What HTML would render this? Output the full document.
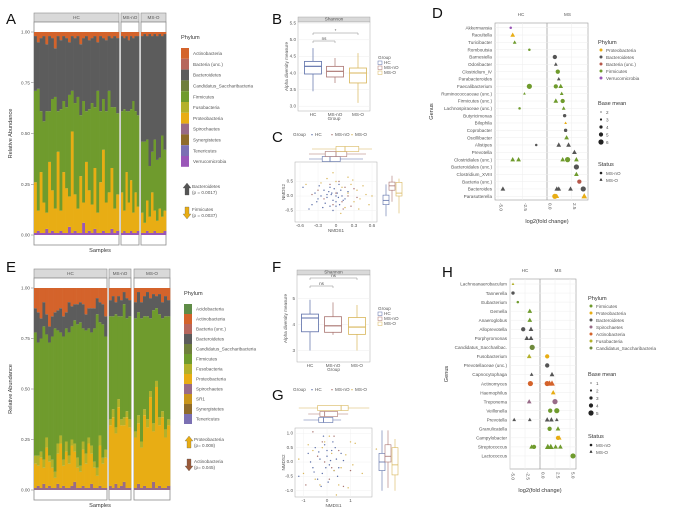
<!DOCTYPE html>
<html><head><meta charset="utf-8"><style>
body{margin:0;background:#fff;}
svg{display:block;font-family:"Liberation Sans",sans-serif;}
.t{font-size:4.6px;fill:#555;}
.l{font-size:5.6px;fill:#333;}
.big{font-size:15px;fill:#111;}
</style></head><body>
<svg id="fig" width="676" height="513" viewBox="0 0 676 513"></svg>
<script>
// ---------- DATA ----------
const A_groups=["HC","MS-nO","MS-O"];
const A_counts=[30,8,10];
const A_verr=[0.01,0.02,0.01,0.01,0.03,0.01,0.02,0.01,0.01,0.02,0.01,0.01,0.04,0.01,0.02,0.01,0.01,0.06,0.01,0.02,0.01,0.03,0.01,0.01,0.02,0.01,0.01,0.03,0.01,0.02, 0.01,0.02,0.01,0.01,0.02,0.01,0.01,0.02, 0.01,0.01,0.02,0.01,0.01,0.02,0.01,0.01,0.01,0.02];
const A_prot=[0.25,0.1,0.3,0.15,0.08,0.35,0.2,0.12,0.4,0.1,0.3,0.22,0.15,0.5,0.18,0.12,0.28,0.1,0.35,0.2,0.14,0.3,0.1,0.25,0.4,0.15,0.2,0.3,0.12,0.18, 0.2,0.1,0.3,0.15,0.25,0.1,0.2,0.12, 0.1,0.05,0.15,0.08,0.2,0.1,0.06,0.12,0.08,0.1];
const A_firm=[0.45,0.6,0.3,0.4,0.5,0.25,0.45,0.55,0.2,0.5,0.35,0.4,0.5,0.2,0.45,0.55,0.3,0.5,0.25,0.4,0.5,0.3,0.6,0.35,0.25,0.45,0.5,0.3,0.5,0.4, 0.4,0.5,0.3,0.45,0.35,0.55,0.4,0.45, 0.35,0.4,0.3,0.25,0.2,0.35,0.3,0.25,0.4,0.3];
const A_actino=[0.02,0.05,0.03,0.02,0.06,0.02,0.03,0.08,0.02,0.04,0.02,0.03,0.05,0.02,0.03,0.02,0.06,0.03,0.02,0.04,0.03,0.02,0.05,0.02,0.03,0.04,0.02,0.03,0.02,0.03, 0.02,0.03,0.02,0.04,0.02,0.03,0.02,0.02, 0.02,0.01,0.02,0.01,0.02,0.01,0.02,0.01,0.02,0.01];
const E_counts=[26,8,12];
const E_spiro=[0.01,0.02,0.01,0.03,0.01,0.02,0.01,0.01,0.03,0.01,0.02,0.01,0.01,0.02,0.04,0.01,0.01,0.02,0.01,0.01,0.03,0.01,0.01,0.02,0.01,0.01, 0.02,0.01,0.03,0.01,0.02,0.04,0.01,0.01, 0.01,0.03,0.01,0.02,0.01,0.01,0.04,0.01,0.02,0.01,0.01,0.02];
const E_prot=[0.12,0.1,0.15,0.08,0.2,0.12,0.1,0.05,0.15,0.22,0.1,0.18,0.12,0.2,0.15,0.1,0.08,0.18,0.12,0.22,0.15,0.1,0.06,0.2,0.12,0.15, 0.3,0.35,0.25,0.4,0.3,0.28,0.35,0.3, 0.25,0.3,0.2,0.35,0.3,0.45,0.25,0.5,0.3,0.35,0.25,0.3];
const E_fuso=[0.04,0.05,0.03,0.04,0.05,0.03,0.04,0.03,0.05,0.04,0.03,0.05,0.04,0.03,0.04,0.05,0.03,0.04,0.05,0.03,0.04,0.03,0.04,0.05,0.03,0.04, 0.03,0.04,0.03,0.04,0.03,0.04,0.03,0.04, 0.03,0.04,0.03,0.03,0.04,0.03,0.04,0.03,0.04,0.03,0.04,0.03];
const E_firm=[0.61,0.56,0.56,0.66,0.51,0.56,0.61,0.71,0.56,0.51,0.61,0.56,0.61,0.56,0.61,0.66,0.71,0.56,0.61,0.54,0.56,0.66,0.76,0.56,0.66,0.56, 0.51,0.46,0.56,0.41,0.51,0.56,0.46,0.51, 0.56,0.51,0.61,0.46,0.51,0.36,0.56,0.36,0.51,0.46,0.56,0.51];
const E_bact=[0.12,0.15,0.1,0.12,0.1,0.08,0.1,0.08,0.1,0.12,0.1,0.08,0.15,0.1,0.08,0.1,0.1,0.12,0.08,0.1,0.12,0.1,0.08,0.1,0.1,0.1, 0.08,0.1,0.06,0.1,0.08,0.06,0.1,0.08, 0.08,0.1,0.08,0.1,0.12,0.1,0.08,0.06,0.1,0.08,0.1,0.08];
const B_stats=[[3.45,3.97,4.2,4.35,4.75],[3.7,3.88,4.05,4.2,4.45],[3.1,3.7,4.0,4.15,4.6]];
const F_stats=[[3.0,3.72,4.25,4.4,4.95],[3.6,3.7,3.95,4.3,4.85],[3.0,3.62,3.9,4.27,4.75]];
const B_ticks=[3.0,3.5,4.0,4.5,5.0,5.5];
const F_ticks=[3,4,5];
const C_hc_x=[-0.55,-0.4,-0.35,-0.3,-0.25,-0.2,-0.18,-0.15,-0.12,-0.1,-0.08,-0.05,-0.03,0,0.02,0.04,0.06,0.08,0.1,0.12,-0.22,-0.28,-0.1,0.0,0.15,-0.45,-0.05,0.05,-0.15,0.2,-0.32,0.0,-0.07];
const C_hc_y=[0.3,-0.3,0.1,-0.1,0.0,0.2,-0.25,-0.05,0.15,-0.35,0.05,-0.15,0.25,-0.2,0.1,-0.05,-0.3,0.2,0.0,-0.15,-0.4,0.35,0.3,0.0,-0.1,-0.45,-0.5,0.4,0.05,0.15,-0.2,-0.35,0.1];
const C_no_x=[-0.3,-0.2,-0.1,0.0,0.1,0.15,0.2,0.25,-0.05,0.3,0.05,0.35,-0.4,0.12];
const C_no_y=[0.2,-0.1,0.4,0.1,-0.2,0.3,0.0,-0.35,-0.3,0.25,0.5,-0.05,0.05,-0.45];
const C_o_x=[-0.25,-0.15,0,0.1,0.2,0.25,0.3,0.35,0.4,0.45,0.5,0.55,0.15,-0.05,0.28,0.38,0.6,0.2,-0.5,0.08];
const C_o_y=[0.45,0.6,0.5,0.3,0.1,0.4,-0.2,0.2,-0.1,0.35,0.05,-0.3,-0.4,0.8,0.55,-0.45,0.0,0.65,0.4,-0.6];
const C_top=[[-0.45,-0.23,-0.1,0.07,0.45],[-0.45,-0.18,0.0,0.18,0.5],[-0.4,0.0,0.15,0.38,0.6]];
const C_right=[[-0.7,-0.3,-0.15,0.03,0.4],[-0.2,0.2,0.35,0.48,0.7],[-0.6,0.0,0.1,0.47,0.6]];
const G_hc_x=[-1.2,-0.8,-0.6,-0.5,-0.3,-0.2,-0.1,0,0.1,0.2,0.3,0.4,-0.4,-0.7,0.5,0.6,-0.15,0.05,0.25,-0.35,-0.05,0.15,0.35,-0.55,0.45,-0.25,0.0,0.7];
const G_hc_y=[-0.5,0.3,-0.2,0.5,0.1,-0.4,0.6,0.2,-0.1,0.4,-0.3,0.1,-0.6,0.0,-0.2,0.3,0.9,-0.7,0.7,0.35,-0.2,0.05,0.5,-0.35,-0.5,-0.85,0.4,0.05];
const G_no_x=[-0.6,-0.2,0.2,0.5,-0.9,0.1,0.7,-0.4,0.3,1.0,-0.1];
const G_no_y=[1.05,0.7,-0.2,0.4,-0.8,-0.6,-0.85,0.2,0.9,-0.3,0.0];
const G_o_x=[-1.2,-1.0,-0.8,-0.5,-0.2,0.1,0.3,0.5,0.8,1.0,1.2,1.5,2.1,0.6,-0.3,0.2,0.9,-0.6,0.4,1.1,-0.1];
const G_o_y=[0.1,-0.4,0.6,-0.6,0.5,0.9,-0.3,-0.8,0.25,0.7,0.65,-0.4,0.45,-0.2,-0.8,0.3,-0.9,0.4,-1.15,-0.1,0.7];
const G_top=[[-1.0,-0.35,-0.15,0.25,0.6],[-0.8,-0.3,-0.1,0.45,0.9],[-1.2,-0.4,0.6,0.9,1.8]];
const G_right=[[-1.0,-0.3,0.0,0.3,1.1],[-0.9,0.0,0.2,0.6,1.1],[-1.0,-0.45,-0.1,0.5,0.8]];
const D_genus=["Akkermansia","Raoultella","Turicibacter","Romboutsia","Barnesiella","Odoribacter","Clostridium_IV","Parabacteroides","Faecalibacterium","Ruminococcaceae (unc.)","Firmicutes (unc.)","Lachnospiraceae (unc.)","Butyricimonas","Bilophila","Coprobacter","Oscillibacter","Alistipes","Prevotella","Clostridiales (unc.)","Bacteroidales (unc.)","Clostridium_XVIII","Bacteria (unc.)","Bacteroides","Parasutterella"];
const D_ticks=[-5,-2.5,0,2.5];
const D_row=[0,1,2,3,4,5,6,7,8,8,8,9,9,10,10,11,11,12,13,14,15,16,16,16,17,18,18,18,18,18,19,20,21,22,22,22,22,22,23,23,23];
const D_fc=[-3.7,-3.5,-3.3,-1.8,0.8,0.9,1.1,1.2,-1.8,0.9,1.4,-2.3,1.5,0.9,1.6,-2.8,1.7,1.8,1.9,1.9,2.0,-1.1,1.2,2.2,2.8,-3.5,-2.9,1.6,2.1,3.0,3.0,3.0,3.3,-4.5,1.0,1.2,2.4,3.7,0.8,1.0,3.8];
const D_phy=["Verrucomicrobia","Proteobacteria","Firmicutes","Firmicutes","Bacteroidetes","Bacteroidetes","Firmicutes","Bacteroidetes","Firmicutes","Firmicutes","Firmicutes","Firmicutes","Firmicutes","Firmicutes","Firmicutes","Firmicutes","Firmicutes","Bacteroidetes","Proteobacteria","Bacteroidetes","Firmicutes","Bacteroidetes","Bacteroidetes","Bacteroidetes","Bacteroidetes","Firmicutes","Firmicutes","Firmicutes","Firmicutes","Firmicutes","Bacteroidetes","Firmicutes","Bacteria (unc.)","Bacteroidetes","Bacteroidetes","Bacteroidetes","Bacteroidetes","Bacteroidetes","Proteobacteria","Proteobacteria","Proteobacteria"];
const D_status=["nO","O","O","nO","nO","O","nO","O","nO","nO","O","O","O","O","nO","nO","O","nO","O","nO","O","nO","O","O","O","O","O","O","nO","O","nO","O","nO","O","O","O","O","nO","nO","O","O"];
const D_size=[1,3,2,1,3,2,3,2,4,3,3,1,2,3,3,1,2,2,1,2,3,1,3,3,3,3,3,3,4,3,4,3,3,3,3,3,3,4,4,3,4];
const H_genus=["Lachnoanaerobaculum","Tannerella","Eubacterium","Gemella","Anaeroglobus","Alloprevotella","Porphyromonas","Candidatus_Saccharibac.","Fusobacterium","Prevotellaceae (unc.)","Capnocytophaga","Actinomyces","Haemophilus","Treponema","Veillonella","Prevotella","Granulicatella","Campylobacter","Streptococcus","Lactococcus"];
const H_ticks=[-5,-2.5,0,2.5,5];
const H_row=[0,1,2,3,4,5,5,6,6,7,8,8,9,10,10,11,11,11,11,12,13,13,14,14,15,15,15,15,15,16,16,17,17,18,18,18,18,18,18,19];
const H_fc=[-4.5,-4.5,-3.7,-1.7,-1.7,-2.8,-1.5,-2.2,-1.5,-1.3,-1.8,1.2,1.2,-1.4,2.0,-1.6,1.2,1.6,2.0,2.2,-1.8,2.5,1.7,2.8,-4.3,-1.7,1.2,1.9,2.8,1.6,3.0,3.0,3.2,-1.4,-1.0,1.3,1.8,2.6,3.4,5.5];
const H_phy=["Fusobacteria","Bacteroidetes","Firmicutes","Firmicutes","Firmicutes","Bacteroidetes","Bacteroidetes","Bacteroidetes","Bacteroidetes","Candidatus_Saccharibacteria","Fusobacteria","Proteobacteria","Bacteroidetes","Bacteroidetes","Bacteroidetes","Actinobacteria","Actinobacteria","Actinobacteria","Actinobacteria","Proteobacteria","Spirochaetes","Spirochaetes","Firmicutes","Firmicutes","Bacteroidetes","Bacteroidetes","Bacteroidetes","Bacteroidetes","Bacteroidetes","Firmicutes","Firmicutes","Proteobacteria","Proteobacteria","Firmicutes","Firmicutes","Firmicutes","Firmicutes","Firmicutes","Firmicutes","Firmicutes"];
const H_status=["O","nO","nO","O","O","nO","O","O","O","nO","O","nO","nO","O","O","nO","nO","O","O","O","O","nO","nO","nO","O","O","O","O","O","nO","O","nO","O","O","nO","O","O","O","O","nO"];
const H_size=[1,2,1,3,3,3,3,3,3,4,3,3,3,2,3,4,4,4,4,3,3,4,3,4,2,2,3,3,2,3,3,3,3,3,3,4,4,3,3,4];

// ---------- HELPERS ----------
const NS="http://www.w3.org/2000/svg";
const svg=document.getElementById('fig');
function mk(tag,attrs,name,parent){
  const el=document.createElementNS(NS,tag);
  for(const k in attrs) el.setAttribute(k,attrs[k]);
  
  
  (parent||svg).appendChild(el);
  return el;
}
function txt(x,y,s,cls,name,extra){
  const a=Object.assign({x:x,y:y,class:cls},extra||{});
  const el=mk('text',a,name);
  el.textContent=s;
  return el;
}
const PC={"Actinobacteria":"#d4632b","Bacteria (unc.)":"#b6675d","Bacteroidetes":"#5c5c5c","Candidatus_Saccharibacteria":"#6f7f3c","Firmicutes":"#6f9b2d","Fusobacteria":"#b3b12b","Proteobacteria":"#e8ad14","Spirochaetes":"#986b88","Synergistetes":"#8f6b2b","Tenericutes":"#7b70b3","Verrucomicrobia":"#9a57b8","Acidobacteria":"#5f8c47","SR1":"#c9951b"};
const GC=["#5b6ea8","#a9736f","#d8b65a"];
const GN=["HC","MS-nO","MS-O"];

[["A",6,24],["B",272,24],["C",272,142],["D",432,18],["E",6,272],["F",272,272],["G",272,400],["H",442,277]].forEach(p=>{
  txt(p[1],p[2],p[0],'big','panel-label-'+p[0].toLowerCase());
});

function stackPanel(id,segs,yTop,yBot,counts,layers,ticksY){
  segs.forEach((s,i)=>{
    mk('rect',{x:s[0],y:yTop-19,width:s[1]-s[0],height:9,fill:'#d9d9d9',stroke:'#8c8c8c','stroke-width':0.6},id+'-strip-'+GN[i].toLowerCase());
    txt((s[0]+s[1])/2,yTop-12.8,GN[i],'t',id+'-strip-label',{'text-anchor':'middle','font-size':'4.4px'});
    mk('rect',{x:s[0],y:yTop-10,width:s[1]-s[0],height:10+(yBot-yTop)+10,fill:'#fff',stroke:'#8c8c8c','stroke-width':0.8},id+'-panel-'+GN[i].toLowerCase());
  });
  let idx=0;
  segs.forEach((s,g)=>{
    const n=counts[g], w=(s[1]-s[0])/n;
    for(let j=0;j<n;j++,idx++){
      let cum=0;
      layers.forEach(L=>{
        const v=L.vals?L.vals[idx]:Math.max(0,1-cum);
        const y1=yBot-(yBot-yTop)*(cum+v), y0=yBot-(yBot-yTop)*cum;
        mk('rect',{x:(s[0]+j*w).toFixed(2),y:y1.toFixed(2),width:(w+0.3).toFixed(2),height:Math.max(0,y0-y1).toFixed(2),fill:L.c},id+'-bar-segment');
        cum+=v;
      });
    }
  });
  ticksY.forEach(t=>{
    const y=yBot-(yBot-yTop)*t;
    txt(30,y+1.5,t.toFixed(2),'t',id+'-y-tick-label',{'text-anchor':'end'});
    mk('line',{x1:31,x2:33.5,y1:y,y2:y,stroke:'#777','stroke-width':0.5},id+'-y-tick');
  });
  txt(12,(yTop+yBot)/2,'Relative Abundance','l',id+'-y-axis-title',{'text-anchor':'middle',transform:`rotate(-90 12 ${(yTop+yBot)/2})`,'font-size':'5.2px'});
  txt(100,yBot+17,'Samples','l',id+'-x-axis-title',{'text-anchor':'middle','font-size':'5.8px'});
}
stackPanel('a',[[34,119],[121,139],[141,166]],32,235,A_counts,[
 {vals:A_verr,c:PC.Verrucomicrobia},{vals:A_prot,c:PC.Proteobacteria},{vals:A_firm,c:PC.Firmicutes},
 {vals:A_actino.map((a,i)=>1-a-A_verr[i]-A_prot[i]-A_firm[i]),c:PC.Bacteroidetes},{vals:null,c:PC.Actinobacteria}],[0,0.25,0.5,0.75,1]);
stackPanel('e',[[34,107],[109,131],[134,170]],288,490,E_counts,[
 {vals:E_spiro,c:PC.Spirochaetes},{vals:E_prot,c:PC.Proteobacteria},{vals:E_fuso,c:PC.Fusobacteria},{vals:E_firm,c:PC.Firmicutes},
 {vals:E_bact,c:PC.Bacteroidetes},{vals:null,c:PC.Actinobacteria}],[0,0.25,0.5,0.75,1]);

function stackLegend(id,x,y0,step,names,title){
  txt(x,y0-9,title,'l',id+'-legend-title',{'font-size':'6.4px'});
  names.forEach((n,i)=>{
    mk('rect',{x:x,y:y0+i*step,width:8,height:step,fill:PC[n]},id+'-legend-swatch');
    txt(x+12,y0+i*step+step/2+1.7,n,'t',id+'-legend-label',{'font-size':'4.8px'});
  });
}
stackLegend('a',181,48,10.8,["Actinobacteria","Bacteria (unc.)","Bacteroidetes","Candidatus_Saccharibacteria","Firmicutes","Fusobacteria","Proteobacteria","Spirochaetes","Synergistetes","Tenericutes","Verrucomicrobia"],'Phylum');
stackLegend('e',184,304,10,["Acidobacteria","Actinobacteria","Bacteria (unc.)","Bacteroidetes","Candidatus_Saccharibacteria","Firmicutes","Fusobacteria","Proteobacteria","Spirochaetes","SR1","Synergistetes","Tenericutes"],'Phylum');
function arrow(id,x,y,up,col,l1,l2){
  const p=up?`M${x-2},${y+11}h4v-7h2l-4,-5l-4,5h2z`:`M${x-2},${y}h4v7h2l-4,5l-4,-5h2z`;
  mk('path',{d:p,fill:col,stroke:'#555','stroke-width':0.3},id+'-arrow');
  txt(x+5,y+4,l1,'t',id+'-arrow-label',{'font-size':'4.8px'});
  txt(x+5,y+10,l2,'t',id+'-arrow-pvalue',{'font-size':'4.4px'});
}
arrow('a-bacteroidetes',187,184,true,'#555','Bacteroidetes','(p = 0.0017)');
arrow('a-firmicutes',187,207,false,'#e8ad14','Firmicutes','(p = 0.0037)');
arrow('e-proteobacteria',189,437,true,'#e8ad14','Proteobacteria','(p= 0.008)');
arrow('e-actinobacteria',189,459,false,'#9a5a3a','Actinobacteria','(p= 0.045)');

function boxPanel(id,x0,x1,yTop,yBot,stats,ticks,sy,centers,brackets){
  mk('rect',{x:x0,y:yTop-5,width:x1-x0,height:5,fill:'#d9d9d9',stroke:'#999','stroke-width':0.4},id+'-strip');
  txt((x0+x1)/2,yTop-1.3,'Shannon','t',id+'-strip-label',{'text-anchor':'middle','font-size':'3.5px'});
  mk('rect',{x:x0,y:yTop,width:x1-x0,height:yBot-yTop,fill:'#fff',stroke:'#aaa','stroke-width':0.5},id+'-plot-area');
  ticks.forEach(t=>{
    mk('line',{x1:x0,x2:x1,y1:sy(t),y2:sy(t),stroke:'#eee','stroke-width':0.5},id+'-gridline');
    txt(x0-2,sy(t)+1.3,String(ticks.length>3?t.toFixed(1):t),'t',id+'-y-tick-label',{'text-anchor':'end','font-size':'3.8px'});
  });
  stats.forEach((s,i)=>{
    const c=centers[i];
    mk('line',{x1:c,x2:c,y1:sy(s[0]),y2:sy(s[4]),stroke:GC[i],'stroke-width':0.7},id+'-whisker-'+GN[i].toLowerCase());
    mk('rect',{x:c-8.5,y:sy(s[3]),width:17,height:sy(s[1])-sy(s[3]),fill:'#fff',stroke:GC[i],'stroke-width':0.8},id+'-box-'+GN[i].toLowerCase());
    mk('line',{x1:c-8.5,x2:c+8.5,y1:sy(s[2]),y2:sy(s[2]),stroke:GC[i],'stroke-width':1.1},id+'-median-'+GN[i].toLowerCase());
    txt(c,yBot+5,GN[i],'t',id+'-x-tick-label',{'text-anchor':'middle','font-size':'3.8px'});
  });
  brackets.forEach(b=>{
    mk('path',{d:`M${centers[b[0]]},${b[2]+2}v-2H${centers[b[1]]}v2`,fill:'none',stroke:'#888','stroke-width':0.5},id+'-significance-bracket');
    txt((centers[b[0]]+centers[b[1]])/2,b[2]-1,b[3],'t',id+'-significance-label',{'text-anchor':'middle','font-size':b[3]=='*'?'6px':'3.8px'});
  });
  txt((x0+x1)/2,yBot+9,'Group','t',id+'-x-axis-title',{'text-anchor':'middle','font-size':'4.4px'});
  const my=(yTop+yBot)/2;
  txt(x0-10,my,'Alpha diversity measure','t',id+'-y-axis-title',{'text-anchor':'middle',transform:`rotate(-90 ${x0-10} ${my})`,'font-size':'4.2px'});
  const lx=378, ly=id=='b'?59:310;
  txt(lx,ly,'Group','t',id+'-legend-title',{'font-size':'4.4px'});
  GN.forEach((g,i)=>{
    mk('rect',{x:lx,y:ly+2+i*5,width:4,height:3.5,fill:'#fff',stroke:GC[i],'stroke-width':0.5},id+'-legend-key');
    txt(lx+6,ly+5+i*5,g,'t',id+'-legend-label',{'font-size':'3.8px'});
  });
}
boxPanel('b',298,370,22,111,B_stats,B_ticks,v=>73-(v-4)*33.2,[313,335,358],[[0,1,41,'ns'],[0,2,33,'*']]);
boxPanel('f',297,370,275,362,F_stats,F_ticks,v=>324.5-(v-4)*26,[310,333,357],[[0,1,286,'ns'],[0,2,278,'ns']]);

function nmds(id,fr,sx,sy,xt,yt,pts,top,topRows,right,rightX,legY){
  txt(293,legY,'Group','t',id+'-legend-title',{'font-size':'4.2px'});
  GN.forEach((g,i)=>{
    mk('circle',{cx:312+i*20,cy:legY-1.3,r:0.7,fill:GC[i]},id+'-legend-dot');
    txt(315+i*20,legY,g,'t',id+'-legend-label',{'font-size':'4px'});
  });
  mk('rect',{x:fr[0],y:fr[1],width:fr[2]-fr[0],height:fr[3]-fr[1],fill:'#fff',stroke:'#aaa','stroke-width':0.5},id+'-plot-area');
  xt.forEach(t=>{mk('line',{x1:sx(t),x2:sx(t),y1:fr[1],y2:fr[3],stroke:'#f0f0f0','stroke-width':0.5},id+'-gridline');
    txt(sx(t),fr[3]+5,String(t),'t',id+'-x-tick-label',{'text-anchor':'middle','font-size':'3.6px'});});
  yt.forEach(t=>{mk('line',{x1:fr[0],x2:fr[2],y1:sy(t),y2:sy(t),stroke:'#f0f0f0','stroke-width':0.5},id+'-gridline');
    txt(fr[0]-2,sy(t)+1.2,t.toFixed(1),'t',id+'-y-tick-label',{'text-anchor':'end','font-size':'3.6px'});});
  pts.forEach((p,g)=>p[0].forEach((x,k)=>{
    mk('circle',{cx:sx(x),cy:sy(p[1][k]),r:0.7,fill:GC[g]},id+'-point-'+GN[g].toLowerCase());
  }));
  top.forEach((s,i)=>{
    const y=topRows[i];
    mk('line',{x1:sx(s[0]),x2:sx(s[4]),y1:y,y2:y,stroke:GC[i],'stroke-width':0.6},id+'-top-whisker');
    mk('rect',{x:sx(s[1]),y:y-2.5,width:sx(s[3])-sx(s[1]),height:5,fill:'#fff',stroke:GC[i],'stroke-width':0.6},id+'-top-box');
    mk('line',{x1:sx(s[2]),x2:sx(s[2]),y1:y-2.5,y2:y+2.5,stroke:GC[i],'stroke-width':0.8},id+'-top-median');
  });
  right.forEach((s,i)=>{
    const x=rightX[i];
    mk('line',{x1:x,x2:x,y1:sy(s[0]),y2:sy(s[4]),stroke:GC[i],'stroke-width':0.6},id+'-right-whisker');
    mk('rect',{x:x-3,y:sy(s[3]),width:6,height:sy(s[1])-sy(s[3]),fill:'#fff',stroke:GC[i],'stroke-width':0.6},id+'-right-box');
    mk('line',{x1:x-3,x2:x+3,y1:sy(s[2]),y2:sy(s[2]),stroke:GC[i],'stroke-width':0.8},id+'-right-median');
  });
  txt((fr[0]+fr[2])/2,fr[3]+10,'NMDS1','t',id+'-x-axis-title',{'text-anchor':'middle','font-size':'4.6px'});
  const my=(fr[1]+fr[3])/2;
  txt(fr[0]-10,my,'NMDS2','t',id+'-y-axis-title',{'text-anchor':'middle',transform:`rotate(-90 ${fr[0]-10} ${my})`,'font-size':'4.6px'});
}
nmds('c',[295,162,377,222],v=>336+v*60,v=>196-v*29,[-0.6,-0.3,0.0,0.3,0.6],[-0.5,0,0.5],
 [[C_hc_x,C_hc_y],[C_no_x,C_no_y],[C_o_x,C_o_y]],C_top,[159,154,149],C_right,[386,392,399],136);
nmds('g',[295,428,372,497],v=>327+v*23.5,v=>462-v*28.7,[-1,0,1],[-1,-0.5,0,0.5,1],
 [[G_hc_x,G_hc_y],[G_no_x,G_no_y],[G_o_x,G_o_y]],G_top,[420,414,408],G_right,[382,388,395],391);

const DPC={"Proteobacteria":"#e8ad14","Bacteroidetes":"#555","Bacteria (unc.)":"#b5574a","Firmicutes":"#6f9b2d","Verrucomicrobia":"#9a57b8","Spirochaetes":"#986b88","Actinobacteria":"#d4632b","Fusobacteria":"#b3b12b","Candidatus_Saccharibacteria":"#6f8a3c"};
function dotPanel(id,fr,zero,scale,genus,y0,step,ticks,rows,fc,phy,st,sz,legX,legPhy,legY){
  const sx=v=>zero+v*scale, sy=i=>y0+i*step;
  mk('rect',{x:fr[0],y:fr[1],width:fr[2]-fr[0],height:fr[3]-fr[1],fill:'#fff',stroke:'#999','stroke-width':0.6},id+'-plot-area');
  ticks.forEach(t=>{mk('line',{x1:sx(t),x2:sx(t),y1:fr[1],y2:fr[3],stroke:'#eee','stroke-width':0.5},id+'-gridline');
    txt(sx(t)+1.3,fr[3]+3,t.toFixed(1),'t',id+'-x-tick-label',{transform:`rotate(90 ${sx(t)+1.3} ${fr[3]+3})`,'font-size':'4.8px'});});
  mk('line',{x1:zero,x2:zero,y1:fr[1],y2:fr[3],stroke:'#888','stroke-width':0.6},id+'-zero-line');
  genus.forEach((g,i)=>{
    mk('line',{x1:fr[0],x2:fr[2],y1:sy(i),y2:sy(i),stroke:'#eee','stroke-width':0.5},id+'-row-gridline');
    txt(fr[0]-3,sy(i)+1.7,g,'t',id+'-genus-label',{'text-anchor':'end','font-size':'5px'});
  });
  rows.forEach((r,k)=>{
    const x=sx(fc[k]), y=sy(r), s=0.8+sz[k]*0.45, c=DPC[phy[k]];
    if(st[k]=='O') mk('path',{d:`M${x},${y-s*1.2}L${x+s*1.1},${y+s*0.8}L${x-s*1.1},${y+s*0.8}Z`,fill:c},id+'-point-triangle');
    else mk('circle',{cx:x,cy:y,r:s,fill:c},id+'-point-circle');
  });
  txt(zero-(zero-fr[0])/2,fr[1]-7,'HC','t',id+'-facet-hc',{'text-anchor':'middle','font-size':'5.4px'});
  txt(zero+(fr[2]-zero)/2,fr[1]-7,'MS','t',id+'-facet-ms',{'text-anchor':'middle','font-size':'5.4px'});
  txt(zero,fr[3]+23,'log2(fold change)','l',id+'-x-axis-title',{'text-anchor':'middle','font-size':'7px'});
  const gx=fr[0]-62, my=(fr[1]+fr[3])/2;
  txt(gx,my,'Genus','l',id+'-y-axis-title',{'text-anchor':'middle',transform:`rotate(-90 ${gx} ${my})`,'font-size':'6.5px'});
  txt(legX,legY[0],'Phylum','l',id+'-legend-phylum-title',{'font-size':'6.4px'});
  legPhy.forEach((p,i)=>{
    mk('circle',{cx:legX+3,cy:legY[0]+6+i*7,r:1.5,fill:DPC[p]},id+'-legend-phylum-key');
    txt(legX+8,legY[0]+7.8+i*7,p,'t',id+'-legend-phylum-label',{'font-size':'5px'});
  });
  txt(legX,legY[1],'Base mean','l',id+'-legend-size-title',{'font-size':'6.4px'});
  legY[3].forEach((b,i)=>{
    mk('circle',{cx:legX+3,cy:legY[1]+7+i*7.5,r:0.6+i*0.5,fill:'#222'},id+'-legend-size-key');
    txt(legX+8,legY[1]+8.8+i*7.5,String(b),'t',id+'-legend-size-label',{'font-size':'5px'});
  });
  txt(legX,legY[2],'Status','l',id+'-legend-status-title',{'font-size':'6.4px'});
  mk('circle',{cx:legX+3,cy:legY[2]+7,r:1.3,fill:'#222'},id+'-legend-status-circle');
  txt(legX+8,legY[2]+8.8,'MS-nO','t',id+'-legend-status-label',{'font-size':'5px'});
  mk('path',{d:`M${legX+3},${legY[2]+12}l1.5,2.8h-3z`,fill:'#222'},id+'-legend-status-triangle');
  txt(legX+8,legY[2]+15.8,'MS-O','t',id+'-legend-status-label',{'font-size':'5px'});
}
dotPanel('d',[495,23,588,200],547,9.8,D_genus,27.7,7.33,D_ticks,D_row,D_fc,D_phy,D_status,D_size,598,
 ["Proteobacteria","Bacteroidetes","Bacteria (unc.)","Firmicutes","Verrucomicrobia"],[44,105,166,[2,3,4,5,6]]);
dotPanel('h',[510,279,576,469],540,6,H_genus,284,9.05,H_ticks,H_row,H_fc,H_phy,H_status,H_size,588,
 ["Firmicutes","Proteobacteria","Bacteroidetes","Spirochaetes","Actinobacteria","Fusobacteria","Candidatus_Saccharibacteria"],[300,376,438,[1,2,3,4,5]]);
</script>
</body></html>
